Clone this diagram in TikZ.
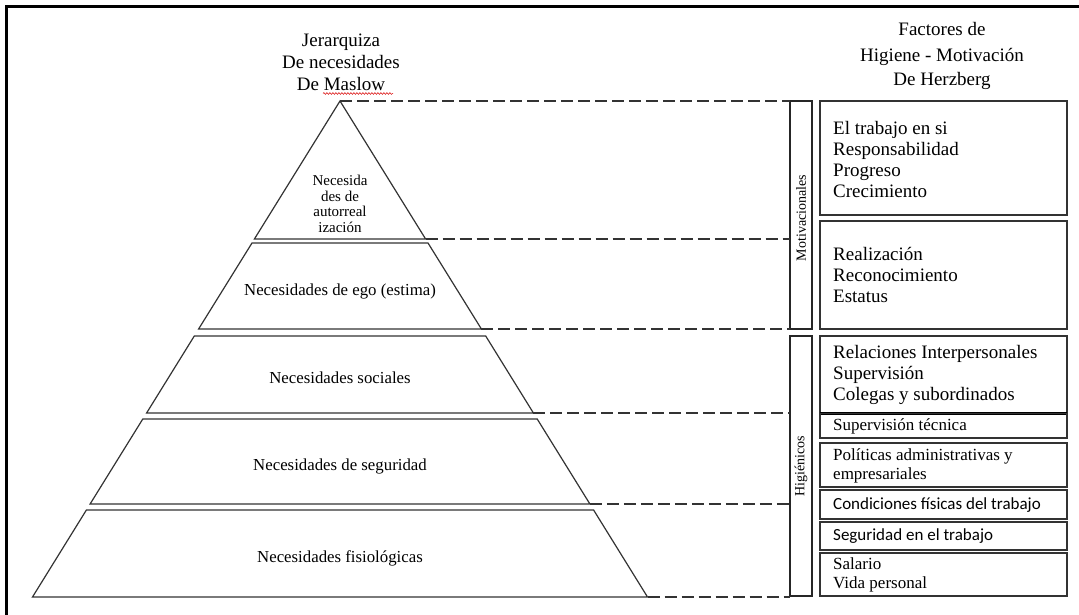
\documentclass[tikz,border=0pt]{standalone}
\usepackage{fontspec}
\setmainfont{Liberation Serif}
\newfontfamily\calibrifont{Carlito}
\usetikzlibrary{decorations.pathmorphing}

\begin{document}
\begin{tikzpicture}[x=1pt,y=-1pt,
  level/.style={draw=black!80, line width=1.2pt, line join=miter},
  guide/.style={draw=black!80, line width=1.2pt, dash pattern=on 12pt off 5pt},
  factorbox/.style={draw=black!80, line width=1.4pt},
  tagbox/.style={draw=black!85, line width=1.3pt},
  headtext/.style={font=\fontsize{19}{22}\selectfont, align=center, inner sep=0pt},
  leveltext/.style={font=\fontsize{16.8}{19}\selectfont, align=center, inner sep=0pt},
  factortext/.style={font=\fontsize{19}{21}\selectfont, align=left, anchor=west, inner sep=0pt},
  smalltext/.style={font=\fontsize{17}{19}\selectfont, align=left, anchor=west, inner sep=0pt},
  sanstext/.style={font=\calibrifont\fontsize{17}{19}\selectfont, align=left, anchor=west, inner sep=0pt},
  tagtext/.style={font=\fontsize{14}{16}\selectfont, rotate=90, inner sep=0pt}]

\useasboundingbox (0,0) rectangle (1079,615);
\fill[white] (0,0) rectangle (1079,615);
\begin{scope}
  \clip (0,0) rectangle (1079,615);
  % outer frame (runs off the right and bottom edges)
  \draw[line width=3pt] (6.5,640) -- (6.5,6.5) -- (1100,6.5);
\end{scope}

% ---- headings ----
\node[headtext] (maslowhead) at (341,62) {Jerarquiza\\De necesidades\\De Maslow};
\draw[red!85!black, line width=0.5pt, decorate,
      decoration={snake, amplitude=0.9pt, segment length=3pt}]
  (323,93.5) -- (393,93.5);
\node[headtext] (herz1) at (942,29) {Factores de};
\node[headtext] (herz2) at (942,57) {Higiene - Motivación};
\node[headtext] (herz3) at (942,81) {De Herzberg};

% ---- pyramid levels ----
\coordinate (apex) at (340,101);
\coordinate (t1l) at (254.4,239); \coordinate (t1r) at (425.6,239);
\draw[level] (apex) -- (t1r) -- (t1l) -- cycle;

\coordinate (e0l) at (252.0,243); \coordinate (e0r) at (428.0,243);
\coordinate (e1l) at (198.6,329); \coordinate (e1r) at (481.4,329);
\draw[level] (e0l) -- (e0r) -- (e1r) -- (e1l) -- cycle;

\coordinate (s0l) at (194.3,336); \coordinate (s0r) at (485.7,336);
\coordinate (s1l) at (146.6,413); \coordinate (s1r) at (533.4,413);
\draw[level] (s0l) -- (s0r) -- (s1r) -- (s1l) -- cycle;

\coordinate (g0l) at (142.8,419); \coordinate (g0r) at (537.2,419);
\coordinate (g1l) at (90.1,504);  \coordinate (g1r) at (589.9,504);
\draw[level] (g0l) -- (g0r) -- (g1r) -- (g1l) -- cycle;

\coordinate (f0l) at (86.4,510); \coordinate (f0r) at (593.6,510);
\coordinate (f1l) at (32.5,597); \coordinate (f1r) at (647.5,597);
\draw[level] (f0l) -- (f0r) -- (f1r) -- (f1l) -- cycle;

\node[leveltext, font=\fontsize{15}{15.5}\selectfont] (lvself) at (340,204)
  {Necesida\\des de\\autorreal\\ización};
\node[leveltext] (lvego)  at (340,291) {Necesidades de ego (estima)};
\node[leveltext] (lvsoc)  at (340,378) {Necesidades sociales};
\node[leveltext] (lvseg)  at (340,466) {Necesidades de seguridad};
\node[leveltext] (lvfis)  at (340,558) {Necesidades fisiológicas};

% ---- group tags ----
\draw[tagbox] (790,101) rectangle (812,329);
\node[tagtext] (tagmot) at (801,218) {Motivacionales};
\draw[tagbox] (790,336) rectangle (812,596);
\node[tagtext] (taghig) at (801,466) {Higiénicos};
\coordinate (m0) at (790,101); \coordinate (m1) at (790,239);
\coordinate (m2) at (790,329); \coordinate (h1) at (790,413);
\coordinate (h2) at (790,504); \coordinate (h3) at (790,597);

% ---- dashed guides ----
\draw[guide] (apex) -- (m0);
\draw[guide] (t1r) -- (m1);
\draw[guide] (e1r) -- (m2);
\draw[guide] (s1r) -- (h1);
\draw[guide] (g1r) -- (h2);
\draw[guide] (f1r) -- (h3);

% ---- factor boxes ----
\draw[factorbox] (820,101) rectangle (1067,215);
\draw[factorbox] (820,221) rectangle (1067,329);
\draw[factorbox] (820,336) rectangle (1067,413);
\draw[black, line width=2.4pt] (820,413.5) -- (1067,413.5);
\draw[factorbox] (820,413.5) rectangle (1067,438);
\draw[factorbox] (820,443) rectangle (1067,487);
\draw[factorbox] (820,490) rectangle (1067,519);
\draw[factorbox] (820,522) rectangle (1067,550);
\draw[factorbox] (820,553) rectangle (1067,596);

\node[factortext] (fx1) at (833,160) {El trabajo en si\\Responsabilidad\\Progreso\\Crecimiento};
\node[factortext] (fx2) at (833,275) {Realización\\Reconocimiento\\Estatus};
\node[factortext] (fx3) at (833,374.5) {Relaciones Interpersonales\\Supervisión\\Colegas y subordinados};
\node[smalltext] (fx4) at (833,426) {Supervisión técnica};
\node[smalltext] (fx5) at (833,465.5) {Políticas administrativas y\\empresariales};
\node[sanstext] (fx6) at (833,505) {Condiciones físicas del trabajo};
\node[sanstext] (fx7) at (833,536.5) {Seguridad en el trabajo};
\node[smalltext] (fx8) at (833,575) {Salario\\Vida personal};

\end{tikzpicture}
\end{document}
